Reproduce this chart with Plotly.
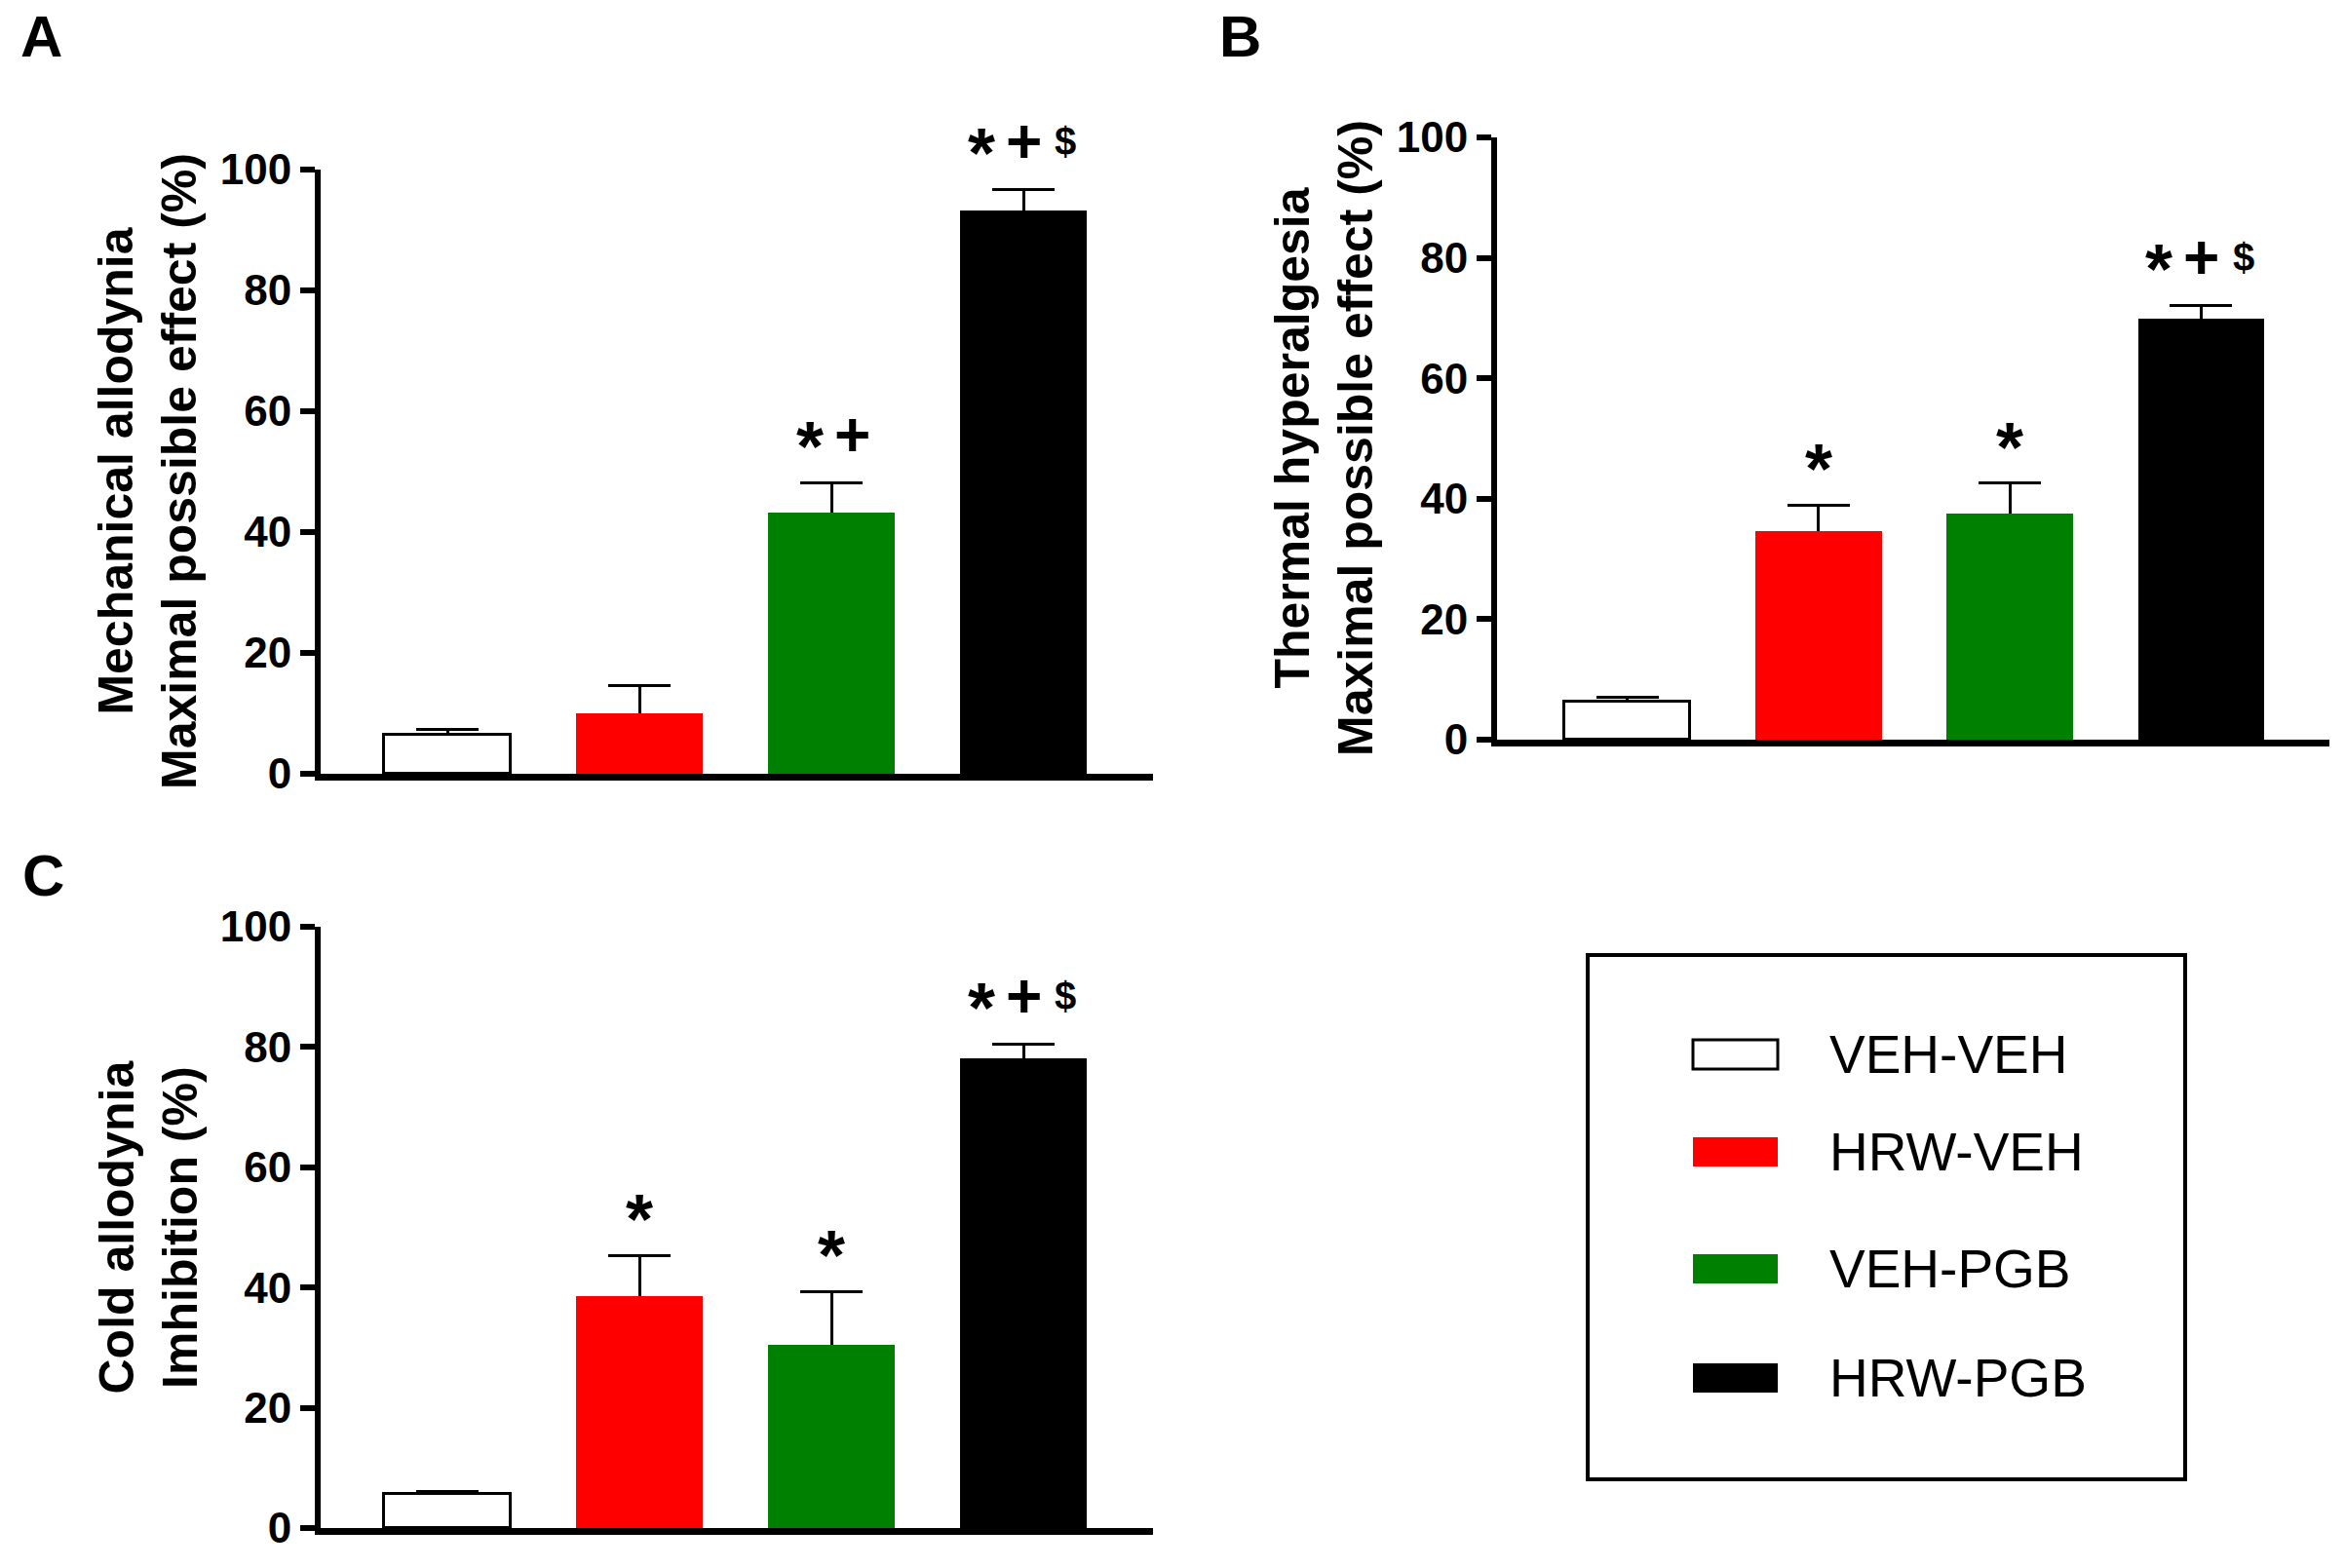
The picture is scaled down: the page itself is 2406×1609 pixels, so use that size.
import plotly.graph_objects as go

# --- Figure size (px) ---
W, H = 2406, 1609

# --- Data ---
GROUPS = ["VEH-VEH", "HRW-VEH", "VEH-PGB", "HRW-PGB"]
COLORS = ["#FFFFFF", "#FF0000", "#008000", "#000000"]
OUTLINE = [3, 0, 0, 0]  # only the white bar has a black border

# A: mechanical allodynia (% MPE)
MECH_MEAN = [6.5, 10.0, 43.2, 93.3]
MECH_SEM = [0.9, 4.6, 5.0, 3.4]
MECH_SIG = ["", "", "*+", "*+$"]

# B: thermal hyperalgesia (% MPE)
THERM_MEAN = [6.3, 34.6, 37.5, 69.9]
THERM_SEM = [0.8, 4.3, 5.1, 2.2]
THERM_SIG = ["", "*", "*", "*+$"]

# C: cold allodynia (% inhibition)
COLD_MEAN = [5.6, 38.6, 30.4, 78.1]
COLD_SEM = [0.5, 6.7, 8.9, 2.4]
COLD_SIG = ["", "*", "*", "*+$"]

Y_TICKS = [0, 20, 40, 60, 80, 100]
Y_MAX = 100

FONT = "Liberation Sans, Arial, sans-serif"


def fx(p):
    return p / W


def fy(p):
    return 1 - p / H


# pixel boxes of each panel: (x left, x right), (y top, y bottom)
PANELS = [
    dict(mean=MECH_MEAN, sem=MECH_SEM, sig=MECH_SIG, letter="A",
         title="Mechanical allodynia<br>Maximal possible effect (%)",
         xdom=(329, 1183), ydom=(174, 794), xrange=(-0.66, 3.675),
         title_x=152, letter_xy=(42, 37)),
    dict(mean=THERM_MEAN, sem=THERM_SEM, sig=THERM_SIG, letter="B",
         title="Thermal hyperalgesia<br>Maximal possible effect (%)",
         xdom=(1536, 2390), ydom=(141, 759), xrange=(-0.68, 3.67),
         title_x=1359, letter_xy=(1272, 37)),
    dict(mean=COLD_MEAN, sem=COLD_SEM, sig=COLD_SIG, letter="C",
         title="Cold allodynia<br>Imhibition (%)",
         xdom=(329, 1183), ydom=(951, 1568), xrange=(-0.66, 3.675),
         title_x=152, letter_xy=(44, 898)),
]

SIG_SIZE = {"*": 72, "+": 64, "$": 40}

fig = go.Figure()
annotations = []
shapes = []

for i, p in enumerate(PANELS, 1):
    xa = "x" if i == 1 else f"x{i}"
    ya = "y" if i == 1 else f"y{i}"
    xs = list(range(len(GROUPS)))

    # error bars on an invisible bar trace; the real bars drawn over it
    # hide the lower cap and the stem inside the bar
    fig.add_trace(go.Bar(
        x=xs, y=p["mean"], width=0.66,
        marker=dict(color="rgba(0,0,0,0)", line=dict(width=0)),
        error_y=dict(type="data", symmetric=False, array=p["sem"],
                     arrayminus=[m / 2 for m in p["mean"]], color="black",
                     thickness=3, width=32),
        xaxis=xa, yaxis=ya, showlegend=False, hoverinfo="skip",
    ))
    fig.add_trace(go.Bar(
        x=xs, y=p["mean"], width=0.66, name="",
        marker=dict(color=COLORS, line=dict(color="black", width=OUTLINE)),
        xaxis=xa, yaxis=ya, showlegend=False,
    ))

    xkey = "xaxis" if i == 1 else f"xaxis{i}"
    ykey = "yaxis" if i == 1 else f"yaxis{i}"
    fig.layout[xkey] = dict(
        domain=[fx(p["xdom"][0]), fx(p["xdom"][1])],
        range=list(p["xrange"]), anchor=ya, automargin=False,
        showline=True, linewidth=7, linecolor="black",
        showticklabels=False, ticks="", showgrid=False, zeroline=False,
        fixedrange=True,
    )
    fig.layout[ykey] = dict(
        domain=[fy(p["ydom"][1]), fy(p["ydom"][0])],
        range=[0, Y_MAX], anchor=xa, tickvals=Y_TICKS, automargin=False,
        showline=True, linewidth=6, linecolor="black",
        ticks="outside", ticklen=15, tickwidth=6, tickcolor="black",
        tickfont=dict(family=FONT, size=44, color="black", weight="bold"),
        showgrid=False, zeroline=False, fixedrange=True,
    )

    # significance marks above the error bars (domain ref so marks above
    # the axis top are still drawn)
    for k, marks in enumerate(p["sig"]):
        n = len(marks)
        for j, ch in enumerate(marks):
            size = SIG_SIZE[ch]
            annotations.append(dict(
                x=k + (j - (n - 1) / 2) * 0.22,
                y=(p["mean"][k] + p["sem"][k] + 8) / Y_MAX,
                xref=xa, yref=f"{ya} domain", text=ch, showarrow=False,
                xanchor="center", yanchor="middle",
                yshift=-0.17 * size if ch == "*" else 0,
                font=dict(family=FONT, size=size, color="black", weight="bold"),
            ))

    # y-axis title
    annotations.append(dict(
        x=fx(p["title_x"]), y=fy((p["ydom"][0] + p["ydom"][1]) / 2),
        xref="paper", yref="paper", text=p["title"], showarrow=False,
        textangle=-90, xanchor="center", yanchor="middle", align="center",
        font=dict(family=FONT, size=50, color="black", weight="bold"),
    ))

    # panel letter
    annotations.append(dict(
        x=fx(p["letter_xy"][0]), y=fy(p["letter_xy"][1]),
        xref="paper", yref="paper", text=p["letter"], showarrow=False,
        xanchor="center", yanchor="middle",
        font=dict(family=FONT, size=60, color="black", weight="bold"),
    ))

# --- Legend box (drawn by hand, wide swatches) ---
LEG_BOX = (1629, 980, 2242, 1518)
LEG_ROWS = [1082, 1182, 1302, 1414]
SW_X0, SW_X1, SW_H = 1737, 1824, 30
TXT_X = 1875

shapes.append(dict(type="rect", xref="paper", yref="paper",
                   x0=fx(LEG_BOX[0]), x1=fx(LEG_BOX[2]),
                   y0=fy(LEG_BOX[3]), y1=fy(LEG_BOX[1]),
                   line=dict(color="black", width=4), fillcolor="rgba(0,0,0,0)"))
for name, col, lw, ry in zip(GROUPS, COLORS, OUTLINE, LEG_ROWS):
    shapes.append(dict(type="rect", xref="paper", yref="paper",
                       x0=fx(SW_X0), x1=fx(SW_X1),
                       y0=fy(ry + SW_H / 2), y1=fy(ry - SW_H / 2),
                       fillcolor=col, line=dict(color="black", width=lw)))
    annotations.append(dict(
        x=fx(TXT_X), y=fy(ry), xref="paper", yref="paper", text=name,
        showarrow=False, xanchor="left", yanchor="middle",
        font=dict(family=FONT, size=55, color="black"),
    ))

fig.update_layout(
    width=W, height=H,
    margin=dict(l=0, r=0, t=0, b=0, autoexpand=False),
    paper_bgcolor="white", plot_bgcolor="white",
    annotations=annotations, shapes=shapes,
    barmode="overlay", bargap=0, showlegend=False,
)

fig.write_html(
    "out.html",
    config={"displayModeBar": False},
    post_script="document.body.style.margin='0';",
)
